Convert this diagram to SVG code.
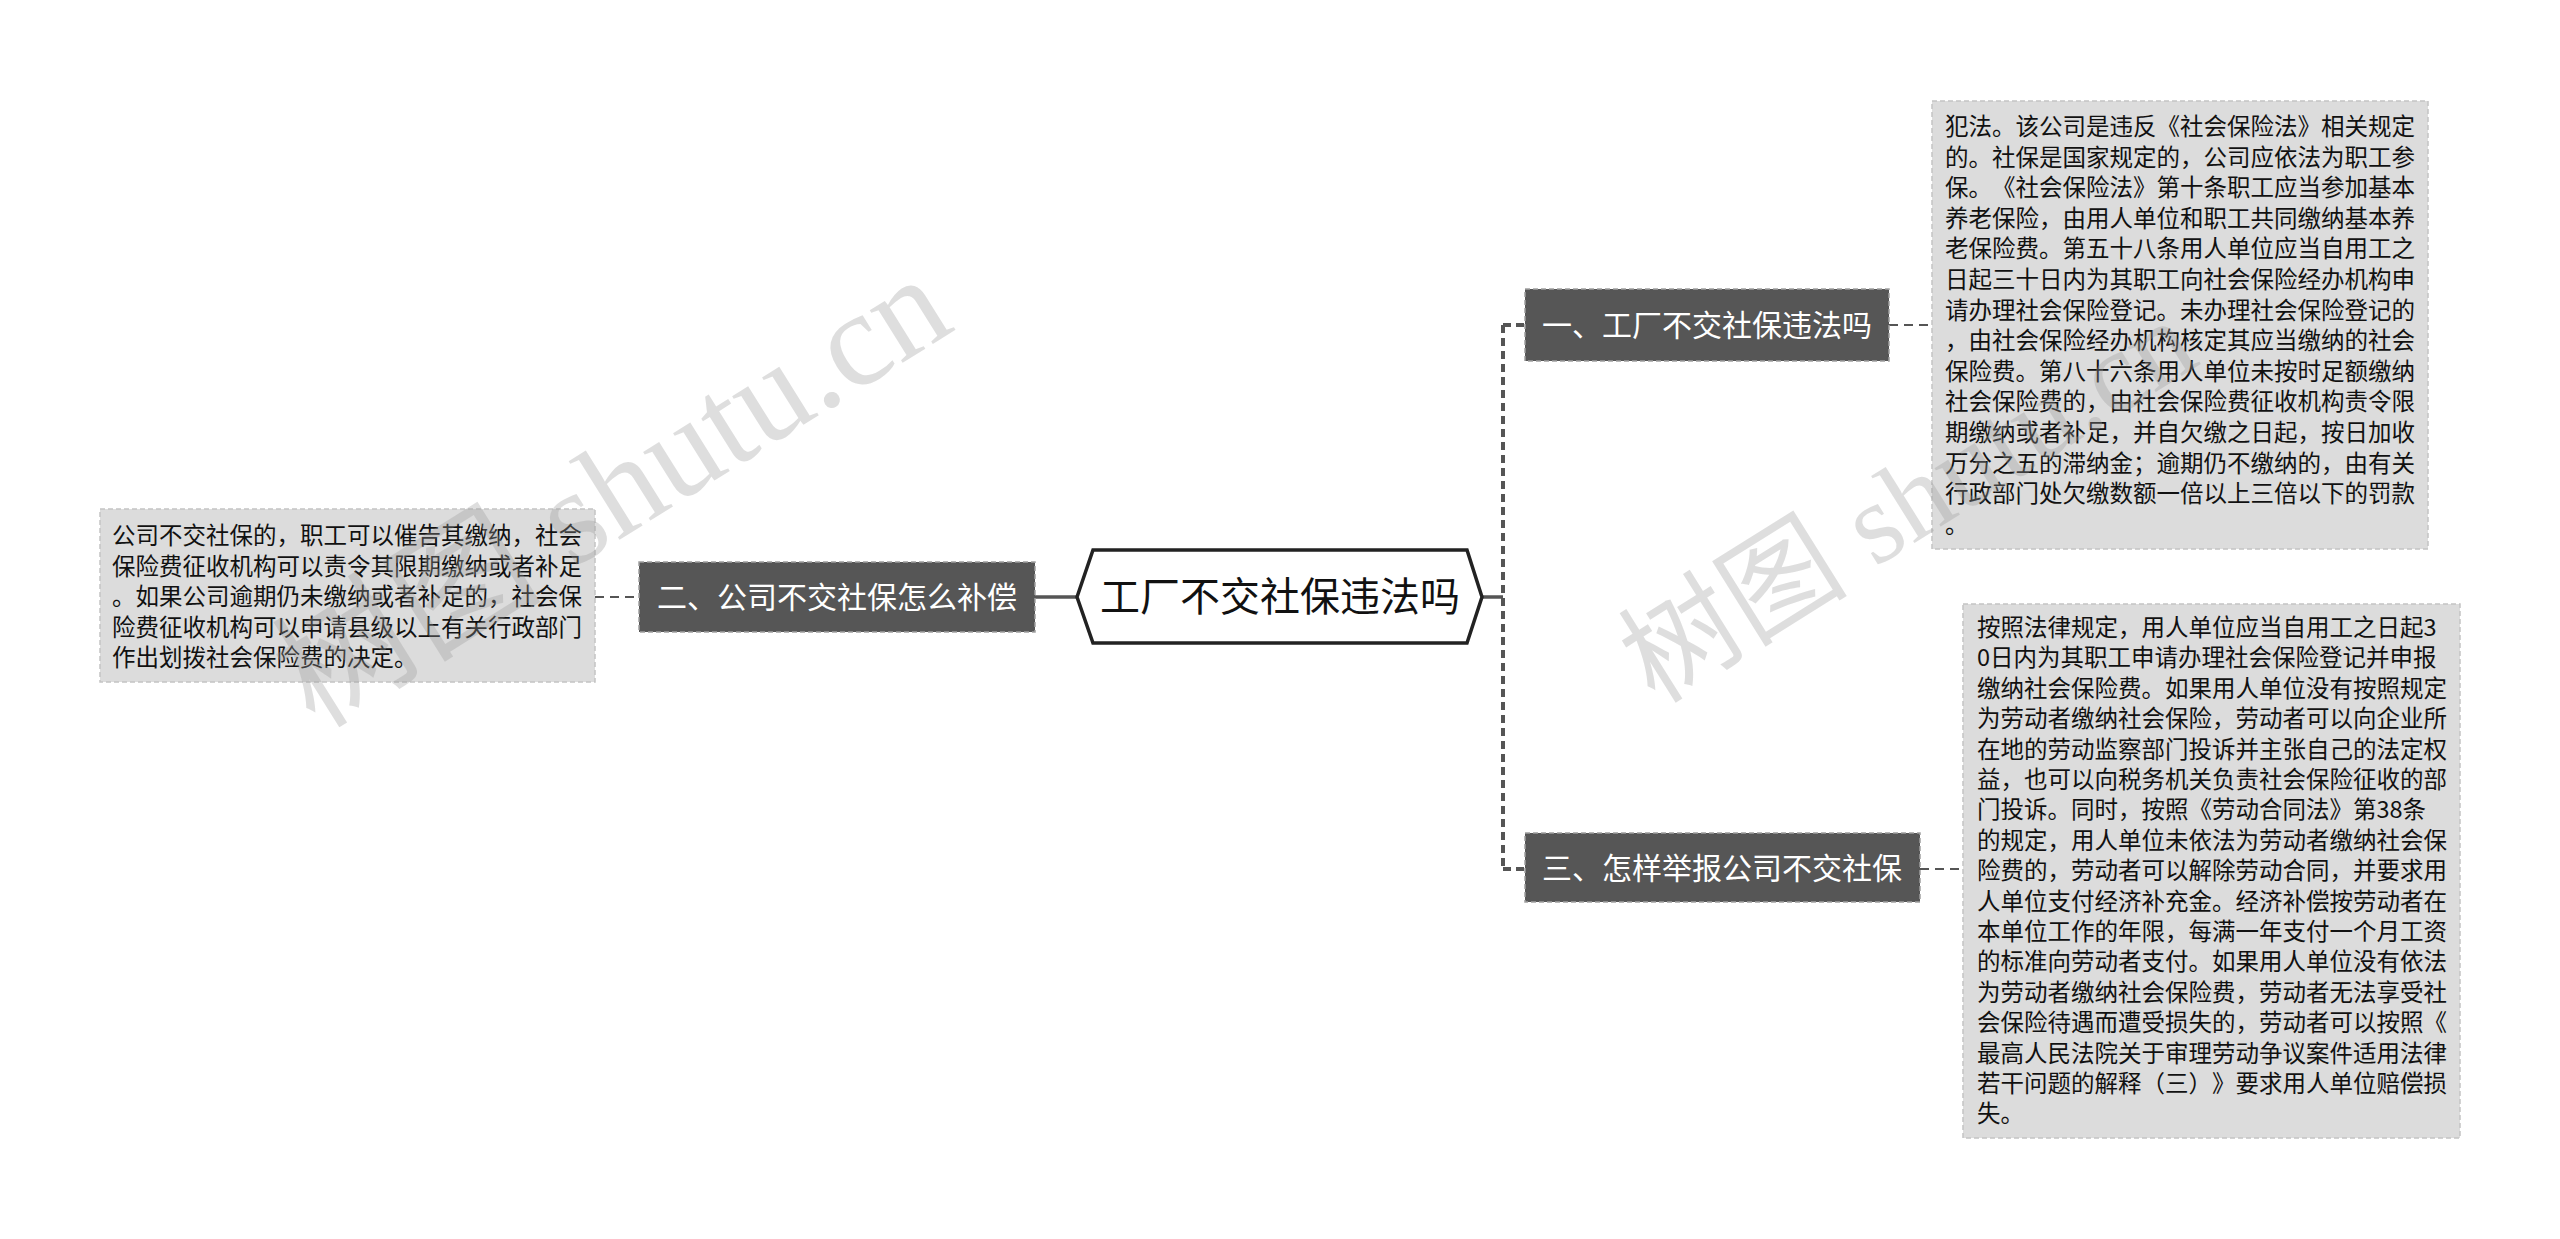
<svg xmlns="http://www.w3.org/2000/svg" width="2560" height="1239" viewBox="0 0 2560 1239">
<style>
text{text-spacing-trim:space-all;font-feature-settings:"halt" 0,"chws" 0}
.bg{fill:#ffffff}
.node rect{fill:#565656;stroke:#a0a0a0;stroke-width:1.5;stroke-dasharray:5 3}
.node text{fill:#ffffff;font-family:"Noto Sans CJK SC","Microsoft YaHei",sans-serif;font-size:30px;text-anchor:middle}
.root polygon{fill:#ffffff;stroke:#222222;stroke-width:3.5}
.root text{fill:#111111;font-family:"Noto Sans CJK SC",sans-serif;font-size:40px;text-anchor:middle}
.leaf rect{fill:#dcdcdc;stroke:#c4c4c4;stroke-width:1.5;stroke-dasharray:5 3}
.leaf text{fill:#111111;font-family:"Noto Sans CJK SC",sans-serif;font-size:23.5px}
.solid{stroke:#555555;stroke-width:3.5;fill:none}
.trunk{stroke:#555555;stroke-width:4;fill:none;stroke-dasharray:8 5}
.dash{stroke:#555555;stroke-width:2;fill:none;stroke-dasharray:9 6}
.wm{fill:#9a9a9a;fill-opacity:0.33;font-family:"Liberation Serif","Noto Sans CJK SC",serif}
</style>
<rect class="bg" x="0" y="0" width="2560" height="1239"/>

<g id="connectors">
  <line class="solid" x1="1482" y1="597" x2="1503" y2="597"/>
  <line class="trunk" x1="1503" y1="325" x2="1503" y2="869"/>
  <line class="trunk" x1="1503" y1="325" x2="1525" y2="325"/>
  <line class="trunk" x1="1503" y1="869" x2="1525" y2="869"/>
  <line class="solid" x1="1035" y1="597" x2="1077" y2="597"/>
  <line class="dash" x1="1889" y1="325" x2="1932" y2="325"/>
  <line class="dash" x1="1920" y1="869" x2="1963" y2="869"/>
  <line class="dash" x1="595" y1="597" x2="639" y2="597"/>
</g>

<g id="root" class="root">
  <polygon points="1077,597 1093,550 1467,550 1482,597 1467,643 1093,643"/>
  <text x="1280" y="611">工厂不交社保违法吗</text>
</g>

<g id="node1" class="node">
  <rect x="1525" y="289" width="364" height="72"/>
  <text x="1707" y="336">一、工厂不交社保违法吗</text>
</g>

<g id="node2" class="node">
  <rect x="639" y="562" width="396" height="70"/>
  <text x="837" y="608">二、公司不交社保怎么补偿</text>
</g>

<g id="node3" class="node">
  <rect x="1525" y="833" width="395" height="69"/>
  <text x="1722" y="879">三、怎样举报公司不交社保</text>
</g>

<g id="leaf1" class="leaf">
  <rect x="1932" y="101" width="496" height="448"/>
  <text>
    <tspan x="1945" y="135">犯法。该公司是违反《社会保险法》相关规定</tspan>
    <tspan x="1945" y="165.6">的。社保是国家规定的，公司应依法为职工参</tspan>
    <tspan x="1945" y="196.2">保。《社会保险法》第十条职工应当参加基本</tspan>
    <tspan x="1945" y="226.8">养老保险，由用人单位和职工共同缴纳基本养</tspan>
    <tspan x="1945" y="257.4">老保险费。第五十八条用人单位应当自用工之</tspan>
    <tspan x="1945" y="288">日起三十日内为其职工向社会保险经办机构申</tspan>
    <tspan x="1945" y="318.6">请办理社会保险登记。未办理社会保险登记的</tspan>
    <tspan x="1945" y="349.2">，由社会保险经办机构核定其应当缴纳的社会</tspan>
    <tspan x="1945" y="379.8">保险费。第八十六条用人单位未按时足额缴纳</tspan>
    <tspan x="1945" y="410.4">社会保险费的，由社会保险费征收机构责令限</tspan>
    <tspan x="1945" y="441">期缴纳或者补足，并自欠缴之日起，按日加收</tspan>
    <tspan x="1945" y="471.6">万分之五的滞纳金；逾期仍不缴纳的，由有关</tspan>
    <tspan x="1945" y="502.2">行政部门处欠缴数额一倍以上三倍以下的罚款</tspan>
    <tspan x="1945" y="532.8">。</tspan>
  </text>
</g>

<g id="leaf2" class="leaf">
  <rect x="1963" y="604" width="497" height="534"/>
  <text>
    <tspan x="1977" y="636">按照法律规定，用人单位应当自用工之日起3</tspan>
    <tspan x="1977" y="666.4">0日内为其职工申请办理社会保险登记并申报</tspan>
    <tspan x="1977" y="696.8">缴纳社会保险费。如果用人单位没有按照规定</tspan>
    <tspan x="1977" y="727.2">为劳动者缴纳社会保险，劳动者可以向企业所</tspan>
    <tspan x="1977" y="757.6">在地的劳动监察部门投诉并主张自己的法定权</tspan>
    <tspan x="1977" y="788">益，也可以向税务机关负责社会保险征收的部</tspan>
    <tspan x="1977" y="818.4">门投诉。同时，按照《劳动合同法》第38条</tspan>
    <tspan x="1977" y="848.8">的规定，用人单位未依法为劳动者缴纳社会保</tspan>
    <tspan x="1977" y="879.2">险费的，劳动者可以解除劳动合同，并要求用</tspan>
    <tspan x="1977" y="909.6">人单位支付经济补充金。经济补偿按劳动者在</tspan>
    <tspan x="1977" y="940">本单位工作的年限，每满一年支付一个月工资</tspan>
    <tspan x="1977" y="970.4">的标准向劳动者支付。如果用人单位没有依法</tspan>
    <tspan x="1977" y="1000.8">为劳动者缴纳社会保险费，劳动者无法享受社</tspan>
    <tspan x="1977" y="1031.2">会保险待遇而遭受损失的，劳动者可以按照《</tspan>
    <tspan x="1977" y="1061.6">最高人民法院关于审理劳动争议案件适用法律</tspan>
    <tspan x="1977" y="1092">若干问题的解释（三）》要求用人单位赔偿损</tspan>
    <tspan x="1977" y="1122.4">失。</tspan>
  </text>
</g>

<g id="leaf3" class="leaf">
  <rect x="100" y="509" width="495" height="173"/>
  <text>
    <tspan x="112" y="544">公司不交社保的，职工可以催告其缴纳，社会</tspan>
    <tspan x="112" y="574.5">保险费征收机构可以责令其限期缴纳或者补足</tspan>
    <tspan x="112" y="605">。如果公司逾期仍未缴纳或者补足的，社会保</tspan>
    <tspan x="112" y="635.5">险费征收机构可以申请县级以上有关行政部门</tspan>
    <tspan x="112" y="666">作出划拨社会保险费的决定。</tspan>
  </text>
</g>

<g id="watermarks">
  <text class="wm" font-size="135" transform="translate(315,730) rotate(-32)">树图 shutu.cn</text>
  <text class="wm" font-size="115" transform="translate(1655,705) rotate(-32)">树图 shutu.cn</text>
</g>
</svg>
